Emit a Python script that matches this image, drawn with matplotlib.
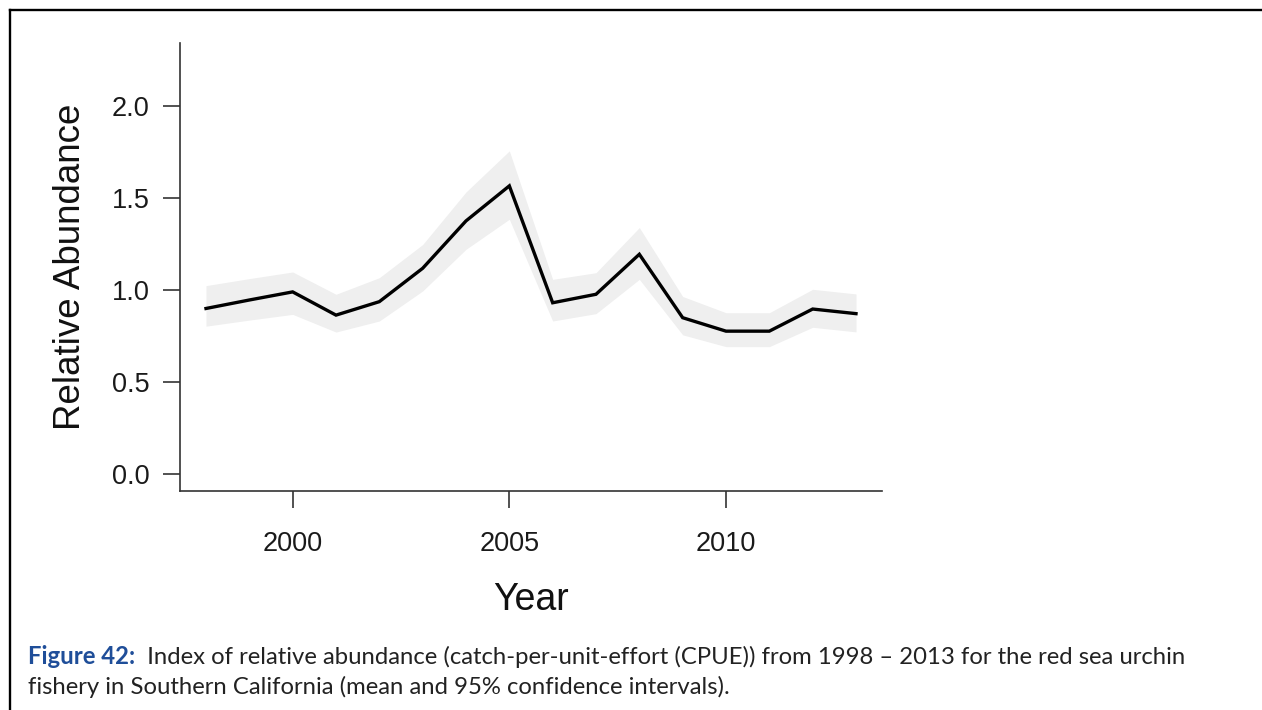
import matplotlib
matplotlib.use("Agg")
import matplotlib.pyplot as plt
from matplotlib.lines import Line2D

# ---------------------------------------------------------------------------
# Data (CPUE index, mean and 95% CI)
# ---------------------------------------------------------------------------
years = [1998, 1999, 2000, 2001, 2002, 2003, 2004, 2005,
         2006, 2007, 2008, 2009, 2010, 2011, 2012, 2013]
cpue_mean = [0.900, 0.946, 0.990, 0.864, 0.937, 1.118, 1.375, 1.565,
             0.931, 0.977, 1.194, 0.850, 0.777, 0.777, 0.897, 0.872]
cpue_upper = [1.024, 1.062, 1.098, 0.977, 1.067, 1.247, 1.532, 1.755,
              1.058, 1.094, 1.339, 0.965, 0.877, 0.877, 1.004, 0.979]
cpue_lower = [0.804, 0.837, 0.868, 0.772, 0.832, 0.995, 1.221, 1.384,
              0.832, 0.872, 1.058, 0.757, 0.693, 0.693, 0.798, 0.773]

x_ticks = [2000, 2005, 2010]
y_ticks = [0.0, 0.5, 1.0, 1.5, 2.0]

caption_head = "Figure 42:"
caption_line1 = ("  Index of relative abundance (catch-per-unit-effort (CPUE)) "
                 "from 1998 \u2013 2013 for the red sea urchin")
caption_line2 = ("fishery in Southern California (mean and 95% confidence "
                 "intervals).")

W, H = 1262, 710
AX_FONT = "Liberation Sans"
CAP_FONT = "Lato"

fig = plt.figure(figsize=(W / 100, H / 100), dpi=100)
fig.patch.set_facecolor("white")

# axes box in pixels: left spine x=180, bottom spine y=491, top y=43, right x=882
ax = fig.add_axes([180 / W, (H - 491) / H, 702 / W, 448 / H])

ax.fill_between(years, cpue_lower, cpue_upper, color="#efefef",
                linewidth=0, zorder=1)
ax.plot(years, cpue_mean, color="black", linewidth=2.4, zorder=3,
        solid_joinstyle="miter")

# R-style 4% padding around the data range
ax.set_xlim(1997.4, 2013.6)
ax.set_ylim(-0.09, 2.34)

ax.set_xticks(x_ticks)
ax.set_xticklabels([str(t) for t in x_ticks])
ax.set_yticks(y_ticks)
ax.set_yticklabels([f"{t:.1f}" for t in y_ticks])

for side in ("top", "right"):
    ax.spines[side].set_visible(False)
for side in ("left", "bottom"):
    ax.spines[side].set_color("#333333")
    ax.spines[side].set_linewidth(1.2)

ax.tick_params(axis="both", direction="out", length=12, width=1.2,
               color="#333333", labelsize=19.5, labelcolor="#1a1a1a")
ax.tick_params(axis="x", pad=17)
ax.tick_params(axis="y", pad=10)
for lab in ax.get_xticklabels() + ax.get_yticklabels():
    lab.set_family(AX_FONT)

# axis titles
fig.text(71 / W, 1 - 267 / H, "Relative Abundance", rotation=90,
         ha="center", va="center", fontsize=26.5, family=AX_FONT,
         color="#111111")
fig.text(531 / W, 1 - 610 / H, "Year", ha="center", va="baseline",
         fontsize=27, family=AX_FONT, color="#111111")

# caption
head = fig.text(28 / W, 1 - 664 / H, caption_head, ha="left", va="baseline",
                fontsize=17.2, family=CAP_FONT, fontweight="bold",
                color="#1f4e99")
fig.canvas.draw()
ax.annotate(caption_line1, xy=(1, 0), xycoords=head, ha="left",
            va="bottom", fontsize=17.2, family=CAP_FONT, color="#222222",
            annotation_clip=False)
fig.text(28 / W, 1 - 694 / H, caption_line2, ha="left", va="baseline",
         fontsize=17.2, family=CAP_FONT, color="#222222")

# frame around the figure (open on the right and bottom, as cropped)
fig.add_artist(Line2D([10 / W, 1.0], [1 - 9.5 / H, 1 - 9.5 / H],
                      transform=fig.transFigure, color="black", lw=1.7))
fig.add_artist(Line2D([10 / W, 10 / W], [1 - 9.5 / H, 0.0],
                      transform=fig.transFigure, color="black", lw=1.7))

fig.savefig("out.png", dpi=100)
